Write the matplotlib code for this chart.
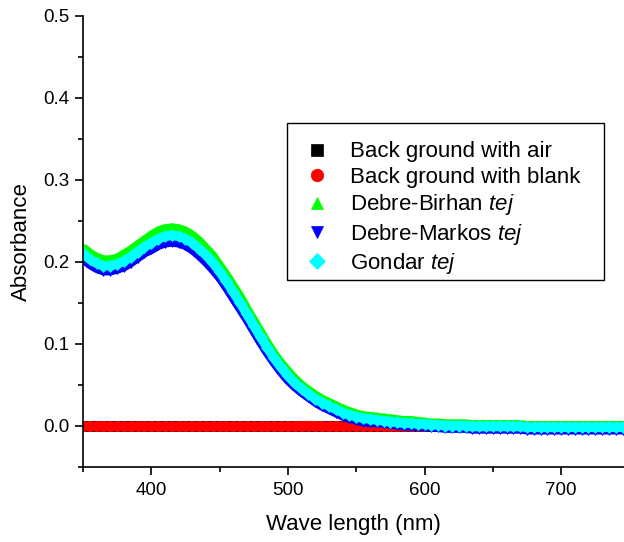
import numpy as np
import matplotlib
matplotlib.use("Agg")
import matplotlib.pyplot as plt
from matplotlib.ticker import MultipleLocator, FormatStrFormatter
from matplotlib.patches import Rectangle

plt.rcParams['font.family'] = ['Liberation Sans', 'DejaVu Sans']
plt.rcParams['mathtext.fontset'] = 'custom'
plt.rcParams['mathtext.it'] = 'Liberation Sans:italic'
plt.rcParams['mathtext.rm'] = 'Liberation Sans'

# wavelength grid (nm)
wavelength = np.arange(350, 750, 5)

air = [0.000, 0.000, 0.000, 0.000, 0.000, 0.000, 0.000, 0.000, 0.000, 0.000,
       0.000, 0.000, 0.000, 0.000, 0.000, 0.000, 0.000, 0.000, 0.000, 0.000,
       0.000, 0.000, 0.000, 0.000, 0.000, 0.000, 0.000, 0.000, 0.000, 0.000,
       0.000, 0.000, 0.000, 0.000, 0.000, 0.000, 0.000, 0.000, 0.000, 0.000,
       0.000, 0.000, 0.000, 0.000, 0.000, 0.000, 0.000, 0.000, 0.000, 0.000,
       0.000, 0.000, 0.000, 0.000, 0.000, 0.000, 0.000, 0.000, 0.000, 0.000,
       0.000, 0.000, 0.000, 0.000, 0.000, 0.000, 0.000, 0.000, 0.000, 0.000,
       0.000, 0.000, 0.000, 0.000, 0.000, 0.000, 0.000, 0.000, 0.000, 0.000]

blank = [-0.001, -0.001, -0.001, -0.001, -0.001, -0.001, -0.001, -0.001, -0.001, -0.001,
         -0.001, -0.001, -0.001, -0.001, -0.001, -0.001, -0.001, -0.001, -0.001, -0.001,
         -0.001, -0.001, -0.001, -0.001, -0.001, -0.001, -0.001, -0.001, -0.001, -0.001,
         -0.001, -0.001, 0.000, 0.000, 0.000, -0.001, -0.001, -0.001, -0.001, -0.001,
         -0.001, -0.001, -0.001, -0.001, -0.001, -0.001, -0.001, -0.001, -0.001, -0.001,
         -0.001, -0.001, -0.001, -0.001, -0.001, -0.001, -0.001, -0.001, -0.001, -0.001,
         -0.001, -0.001, -0.001, -0.001, -0.001, -0.001, -0.001, -0.001, -0.001, -0.001,
         -0.001, -0.001, -0.001, -0.001, -0.001, -0.001, -0.001, -0.001, -0.001, -0.001]

debre_birhan = [0.217, 0.210, 0.205, 0.202, 0.202, 0.204, 0.209, 0.214, 0.220, 0.226,
                0.232, 0.237, 0.240, 0.241, 0.240, 0.237, 0.232, 0.225, 0.216, 0.207,
                0.195, 0.183, 0.170, 0.157, 0.142, 0.128, 0.114, 0.100, 0.087, 0.076,
                0.066, 0.057, 0.049, 0.043, 0.037, 0.032, 0.028, 0.024, 0.020, 0.017,
                0.014, 0.012, 0.011, 0.010, 0.009, 0.008, 0.007, 0.006, 0.006, 0.005,
                0.004, 0.003, 0.003, 0.002, 0.002, 0.002, 0.002, 0.001, 0.001, 0.001,
                0.001, 0.001, 0.001, 0.001, 0.001, 0.000, 0.000, 0.000, 0.000, 0.000,
                0.000, 0.000, 0.000, 0.000, 0.000, 0.000, 0.000, 0.000, 0.000, 0.000]

debre_markos = [0.204, 0.197, 0.192, 0.189, 0.189, 0.191, 0.194, 0.199, 0.205, 0.211,
                0.215, 0.220, 0.223, 0.224, 0.223, 0.220, 0.215, 0.208, 0.200, 0.191,
                0.181, 0.169, 0.156, 0.143, 0.130, 0.116, 0.102, 0.089, 0.077, 0.066,
                0.056, 0.048, 0.041, 0.035, 0.029, 0.024, 0.020, 0.016, 0.012, 0.009,
                0.007, 0.005, 0.004, 0.004, 0.003, 0.002, 0.001, 0.000, 0.000, -0.001,
                -0.001, -0.002, -0.002, -0.003, -0.003, -0.003, -0.003, -0.004, -0.004, -0.004,
                -0.004, -0.004, -0.004, -0.004, -0.004, -0.005, -0.005, -0.005, -0.005, -0.005,
                -0.005, -0.005, -0.005, -0.005, -0.005, -0.005, -0.005, -0.005, -0.005, -0.005]

gondar = [0.210, 0.203, 0.198, 0.195, 0.195, 0.197, 0.201, 0.206, 0.212, 0.218,
          0.223, 0.228, 0.231, 0.232, 0.231, 0.228, 0.223, 0.216, 0.208, 0.199,
          0.188, 0.176, 0.163, 0.150, 0.136, 0.122, 0.108, 0.095, 0.082, 0.071,
          0.061, 0.052, 0.045, 0.039, 0.033, 0.028, 0.024, 0.020, 0.016, 0.013,
          0.011, 0.009, 0.008, 0.007, 0.006, 0.005, 0.004, 0.003, 0.003, 0.002,
          0.002, 0.001, 0.001, 0.000, 0.000, 0.000, 0.000, -0.001, -0.001, -0.001,
          -0.001, -0.001, -0.001, -0.001, -0.001, -0.002, -0.002, -0.002, -0.002, -0.002,
          -0.002, -0.002, -0.002, -0.002, -0.002, -0.002, -0.002, -0.002, -0.002, -0.002]

series = [
    (air, 'Back ground with air', 's', '#000000'),
    (blank, 'Back ground with blank', 'o', '#ff0000'),
    (debre_birhan, r'Debre-Birhan $\mathit{tej}$', '^', '#00ff00'),
    (debre_markos, r'Debre-Markos $\mathit{tej}$', 'v', '#0000ff'),
    (gondar, r'Gondar $\mathit{tej}$', 'D', '#00ffff'),
]

fig = plt.figure(figsize=(6.24, 5.42), dpi=100)
ax = fig.add_axes([0.133, 0.139, 0.867, 0.832])

handles = []
for y, label, mk, c in series:
    ax.plot(wavelength, y, '-', lw=6.8, color=c, solid_capstyle='butt')
    h, = ax.plot(wavelength, y, ls='none', marker=mk, ms=7.5 if mk != 'D' else 6.5,
                 mec=c, mew=0.5, color=c, label=label)
    handles.append(h)

ax.set_xlim(350, 746)
ax.set_ylim(-0.05, 0.5)
ax.xaxis.set_major_locator(MultipleLocator(100))
ax.xaxis.set_minor_locator(MultipleLocator(50))
ax.yaxis.set_major_locator(MultipleLocator(0.1))
ax.yaxis.set_minor_locator(MultipleLocator(0.05))
ax.yaxis.set_major_formatter(FormatStrFormatter('%.1f'))

for s in ['top', 'right']:
    ax.spines[s].set_visible(False)
for s in ['left', 'bottom']:
    ax.spines[s].set_linewidth(1.2)
ax.tick_params(which='major', direction='out', length=6, width=1.2, labelsize=13.5)
ax.tick_params(which='minor', direction='out', length=3.5, width=1.2)
ax.tick_params(axis='x', pad=5)
ax.tick_params(axis='y', pad=4)

ax.set_xlabel('Wave length (nm)', fontsize=16, labelpad=11)
ax.set_ylabel('Absorbance', fontsize=16, labelpad=8)

# legend frame drawn separately so the padding matches the original layout
fig.patches.append(Rectangle((0.46, 0.4834), 0.508, 0.2897, transform=fig.transFigure,
                             fill=False, edgecolor='black', linewidth=1.0))
leg = fig.legend(handles=handles, loc='upper left', bbox_to_anchor=(0.4904, 0.739),
                 fontsize=16, frameon=False, borderpad=0, labelspacing=0.2,
                 handlelength=1.0, handletextpad=1.0, borderaxespad=0, markerscale=1.2)

fig.savefig('out.png', dpi=100)
